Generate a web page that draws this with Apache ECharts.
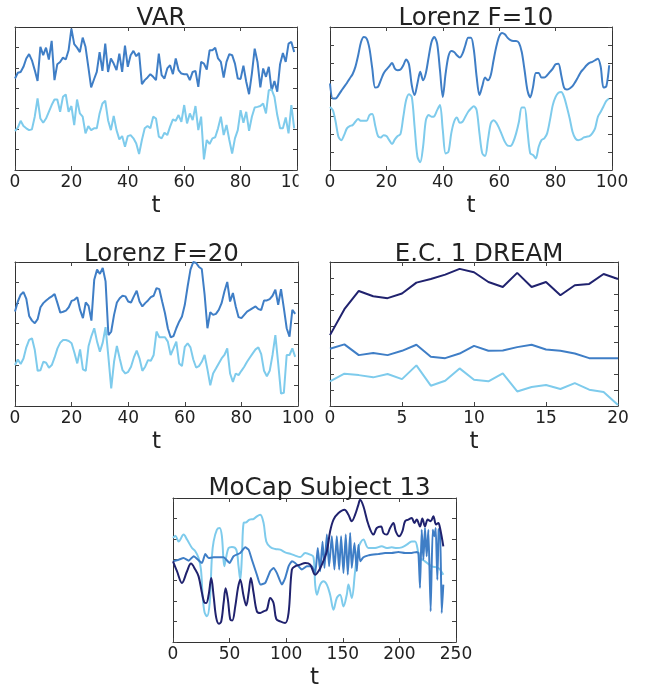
<!DOCTYPE html>
<html>
<head>
<meta charset="utf-8">
<script src="https://cdn.jsdelivr.net/npm/echarts@6/dist/echarts.min.js"></script>
<style>html,body{margin:0;padding:0;background:#fff}#c{width:649px;height:692px}</style>
</head>
<body>
<div id="c"></div>
<script>
// ---------- data (values in panel tick units) ----------
var varDark = [4.48,4.76,4.80,5.05,5.46,5.67,5.37,4.89,4.36,6.03,
5.62,5.99,5.41,6.32,4.40,5.18,5.29,5.50,5.41,5.86,
6.92,6.16,5.99,5.77,6.48,6.03,5.05,4.04,4.43,4.80,
5.77,4.85,6.19,4.80,5.46,5.21,4.89,5.70,4.80,6.09,
5.05,5.62,5.83,5.57,5.73,4.20,4.40,4.53,4.69,4.56,
4.40,5.70,4.64,4.48,4.97,5.13,4.69,5.46,4.89,4.72,
4.69,4.69,4.40,4.80,4.85,4.07,5.29,5.21,4.92,5.86,
5.86,5.98,5.46,5.29,4.53,5.29,5.67,5.62,5.21,4.48,
4.46,5.11,4.32,3.71,4.72,5.94,5.29,4.04,4.97,4.56,
5.05,3.88,4.36,3.83,5.18,5.73,5.29,6.19,6.27,5.78];
var varLight = [1.91,2.07,2.41,2.15,2.04,1.95,1.99,2.61,3.50,2.52,
2.31,2.52,2.85,3.18,3.45,3.45,2.85,3.58,3.70,2.85,
3.13,2.20,3.45,2.77,2.61,1.79,2.15,1.95,2.04,2.04,
2.77,3.26,3.39,2.44,1.95,2.64,1.95,1.50,1.66,1.14,
1.66,1.71,1.55,1.30,0.78,1.47,2.04,2.15,2.04,2.61,
2.52,1.63,1.55,1.82,1.71,2.12,2.48,2.41,2.69,2.36,
3.18,2.28,2.77,2.44,3.13,1.95,2.61,0.52,1.47,1.27,
1.55,1.60,2.04,2.61,1.71,2.20,1.47,0.81,1.55,1.95,
2.93,2.31,2.85,1.92,2.61,3.06,3.09,3.13,3.26,2.77,
3.91,3.94,3.58,2.69,2.04,2.04,2.57,1.79,3.18,2.04];
var lor10Dark = [4.84,4.00,4.00,4.19,4.43,4.65,4.87,5.12,5.36,5.77,
6.42,7.16,7.44,7.35,6.79,5.67,4.61,4.65,5.02,5.40,
5.62,5.80,5.99,5.67,5.58,5.62,5.86,6.18,5.92,4.74,
4.19,4.84,5.49,5.02,5.43,6.33,7.16,7.44,7.07,5.58,
4.09,5.40,6.36,6.66,6.60,6.42,6.29,6.51,6.98,7.40,
7.40,6.73,5.21,4.19,4.69,5.17,5.02,5.30,6.14,6.92,
7.48,7.67,7.59,7.39,7.26,7.22,7.22,7.11,6.60,5.58,
4.47,4.06,4.65,5.43,5.43,5.17,5.17,5.30,5.49,5.67,
5.92,5.95,5.30,4.61,4.50,4.56,4.69,4.93,5.21,5.49,
5.67,5.86,5.99,6.05,6.14,6.23,5.77,4.61,4.69,5.86];
var lor10Light = [3.53,3.35,2.70,1.86,1.67,1.95,2.33,2.46,2.51,2.70,
2.85,2.75,2.75,2.75,3.07,3.13,2.51,1.90,1.82,1.95,
1.90,1.67,1.45,1.71,1.90,2.01,2.98,3.91,4.24,4.09,
2.42,0.74,0.43,1.30,2.79,3.07,2.98,3.01,3.35,3.63,
2.23,0.93,1.02,2.05,2.70,2.94,2.64,2.70,2.98,3.26,
3.44,3.57,3.35,2.05,0.93,0.78,1.67,2.60,2.79,2.64,
2.33,1.95,1.58,1.36,1.34,1.58,2.05,2.70,3.50,3.50,
2.23,0.93,0.84,0.65,1.30,1.67,1.77,2.05,2.79,3.63,
4.09,4.32,4.37,4.09,3.53,2.88,2.14,1.77,1.67,1.71,
1.82,1.86,1.90,2.05,2.33,2.98,3.26,3.57,3.87,4.00];
var lor20Dark = [4.59,5.08,5.41,5.54,5.21,4.38,4.15,4.02,4.22,4.80,
5.00,5.13,5.24,5.33,5.44,5.00,4.54,4.58,4.64,4.80,
5.11,5.16,5.29,4.67,4.27,5.03,4.87,4.15,6.14,6.63,
6.42,6.71,6.06,3.45,3.62,4.43,5.03,5.24,5.36,5.33,
5.08,5.03,5.33,5.60,5.08,4.84,5.00,5.13,5.29,5.36,
5.73,5.68,5.08,4.51,3.78,3.34,3.40,3.78,4.10,4.35,
4.92,5.81,6.63,7.00,6.95,6.76,6.66,5.41,3.78,4.56,
4.43,4.48,4.67,5.00,5.57,6.03,5.08,5.49,4.84,4.32,
4.27,4.43,4.59,4.67,4.76,4.84,4.71,4.67,5.13,5.13,
5.20,5.36,5.65,4.92,5.68,4.76,3.78,3.37,4.67,4.48];
var lor20Light = [1.99,2.26,2.04,2.31,2.85,3.21,3.29,2.72,1.71,1.74,
2.15,2.10,1.86,1.99,2.36,2.80,3.08,3.21,3.21,3.16,
3.05,2.59,2.07,2.75,1.78,1.71,2.92,3.40,3.78,3.13,
2.64,3.08,3.83,2.39,0.85,2.15,2.92,2.31,1.74,1.58,
1.66,1.91,2.36,2.69,2.31,1.71,1.91,2.23,2.20,2.48,
3.62,3.34,3.34,3.34,3.13,2.48,2.80,3.13,2.07,1.94,
2.88,3.05,2.85,2.26,1.87,1.94,2.15,2.48,1.78,1.01,
1.58,1.82,2.07,2.31,2.48,2.80,1.58,1.17,1.58,1.50,
1.71,1.91,2.15,2.36,2.56,2.75,2.85,2.52,1.71,1.45,
1.71,2.48,3.45,2.07,0.60,0.64,2.48,2.48,2.80,2.39];
var dreamNavy = [4.43,6.05,7.19,6.86,6.74,7.03,7.71,7.94,8.21,8.57,8.36,7.75,7.44,8.32,7.44,7.75,6.92,7.55,7.63,8.25,7.94];
var dreamMid = [3.58,3.85,3.18,3.31,3.18,3.45,3.83,3.08,2.99,3.28,3.76,3.45,3.47,3.68,3.83,3.53,3.45,3.28,2.99,2.99,2.99];
var dreamLight = [1.54,2.02,1.93,1.79,2.00,1.68,2.54,1.27,1.58,2.35,1.64,1.54,2.04,0.91,1.19,1.31,1.06,1.43,1.02,0.87,0.06];
var mocapNavy = [[0,3.92],[3.5,3.44],[7.9,2.87],[12.4,3.44],[15.9,3.81],[19.7,3.52],[22.6,3.19],[25.6,2.38],[27.6,1.93],[29.4,1.90],
[31.5,2.30],[33.8,3.11],[35.9,2.22],[38.2,1.17],[40.6,0.89],[42.6,1.00],[44.7,1.90],[46.5,2.61],[48.5,2.06],[50.6,1.09],
[52.4,1.05],[55,1.73],[57.4,2.63],[59.4,3.03],[62.4,2.22],[64.7,1.77],[66.8,2.38],[68.8,3.11],[71.2,2.38],[74.1,1.49],
[77.1,1.41],[80,1.49],[82.9,1.57],[85.9,2.14],[88.8,1.90],[91.2,1.12],[94.7,1.00],[99.1,0.92],[102.1,1.41],[105,3.52],
[107.9,3.68],[112.4,3.76],[116.8,3.84],[121.2,3.76],[125.6,3.27],[128.5,3.44],[131.5,3.76],[135.9,4.41],[138.8,5.38],[141.8,5.95],
[146.2,6.27],[151.5,6.43],[155,6.19],[157.9,5.87],[160.9,6.19],[163.8,6.68],[165.3,6.92],[168.2,6.60],[172.6,5.71],[177.1,5.22],
[180,5.54],[183.8,5.62],[185.9,5.30],[188.8,5.22],[191.8,5.54],[194.7,5.79],[196.8,5.38],[199.7,5.14],[202.6,5.38],[205,5.87],
[207.9,5.95],[210.9,6.03],[213.2,5.79],[215.3,5.95],[218.2,5.62],[220.3,6.00],[222.6,5.62],[225,5.95],[227.6,5.87],[230,6.11],
[232.4,5.71],[234.4,5.79],[235.9,5.54],[238.8,4.65]];
var mocapMid = [[0,3.92],[5,4.00],[9.4,4.08],[13.8,3.95],[18.2,4.17],[25.6,3.84],[28.5,4.28],[31.5,4.08],[35.9,4.12],[44.7,4.12],
[50,3.84],[53.5,4.17],[59.4,4.33],[63.8,4.60],[66.8,4.49],[69.7,4.00],[74.1,3.27],[77.1,2.79],[81.5,2.87],[85.9,3.44],
[88.8,3.60],[91.8,3.35],[96.2,2.79],[99.1,3.11],[102.1,3.68],[105,3.92],[107.9,3.84],[110.9,3.68],[113.8,3.52],[118.2,3.68],
[122.6,3.68],[125.6,3.35],[127.9,4.57],[130,3.44],[132.1,4.89],[133.8,3.60],[135.9,5.22],[137.9,3.68],[140.3,5.14],[142.6,3.52],
[144.7,5.14],[146.8,3.52],[148.5,5.14],[150.6,3.35],[152.6,5.22],[154.4,3.27],[156.5,5.30],[157.9,3.60],[160.3,4.81],[162.4,3.44],
[163.8,4.73],[165.3,3.92],[168.2,4.12],[172.6,4.21],[177.1,4.25],[181.5,4.28],[187.4,4.33],[193.2,4.33],[199.1,4.38],[205,4.33],
[210.9,4.33],[215.3,4.38],[216.8,4.33],[218.2,2.63],[219.7,5.46],[221.2,4.00],[222.6,5.54],[224.1,4.17],[225.6,5.46],[227.6,1.49],
[229.4,5.46],[230.9,5.14],[232.1,5.54],[233.5,3.03],[234.7,5.46],[235.9,5.54],[237.4,1.41],[238.8,2.79]];
var mocapLight = [[0,5.06],[2.1,5.17],[5,4.89],[9.4,5.22],[12.4,4.98],[16.8,4.57],[19.7,4.41],[22.6,4.08],[24.7,3.52],[26.2,2.22],
[27.9,1.44],[30,1.25],[32.4,1.90],[34.4,4.17],[35.9,4.89],[38.8,5.46],[41.2,5.54],[43.2,5.14],[45.3,3.68],[46.8,4.08],
[49.1,4.57],[52.1,4.62],[55.9,4.49],[57.9,3.68],[59.4,3.03],[60.9,4.17],[62.4,5.79],[64.7,5.82],[67.6,5.95],[71.2,5.98],
[74.1,6.11],[77.1,6.19],[80,5.79],[82.4,4.89],[85.9,4.62],[90.3,4.52],[94.7,4.49],[99.1,4.36],[103.5,4.29],[107.9,4.20],
[112.4,4.13],[116.8,4.33],[121.2,4.25],[124.1,4.13],[125.6,2.79],[127.1,2.30],[130,2.79],[132.9,2.95],[135.9,2.79],[138.8,2.30],
[141.8,1.57],[144.7,2.14],[147.6,2.30],[150.6,1.73],[153.5,2.30],[155,2.79],[157.9,2.14],[160.9,3.44],[163.8,4.57],[168.2,4.98],
[172.6,4.57],[178.5,4.57],[184.4,4.65],[188.8,4.57],[193.2,4.60],[197.6,4.57],[202.1,4.60],[206.5,4.73],[210.9,4.89],[213.8,4.89],
[216.8,4.33],[218.2,4.08],[222.6,3.92],[228.5,3.68],[234.4,3.60],[238.8,3.27]];

var titles = ['VAR', 'Lorenz F=10', 'Lorenz F=20', 'E.C. 1 DREAM', 'MoCap Subject 13'];
var xMax = [100, 100, 100, 20, 250];
var xStep = [20, 20, 20, 5, 50];
var yMax = [7, 8, 7, 9, 7];

// ---------- layout / style ----------
var FONT = 'DejaVu Sans';
var NAVY = '#20226e', MID = '#3f7ec6', LIGHT = '#7ecbec';
var grids = [
  {left: 15, top: 27, width: 282, height: 143},
  {left: 330, top: 27, width: 282, height: 143},
  {left: 15, top: 262, width: 283, height: 144},
  {left: 330, top: 262, width: 288, height: 144},
  {left: 173, top: 498, width: 283, height: 144}
];
var titleTops = [1, 1, 237, 237, 471];

var lineStyleAxis = {color: '#333', width: 1};
var xAxes = [], yAxes = [], titleOpts = [], series = [];
grids.forEach(function (g, i) {
  xAxes.push({
    type: 'value', gridIndex: i, min: 0, max: xMax[i], interval: xStep[i], position: 'bottom',
    axisLine: {show: true, onZero: false, lineStyle: lineStyleAxis},
    axisTick: {show: true, inside: true, length: 4, lineStyle: {color: '#444'}},
    axisLabel: {show: true, fontFamily: FONT, fontSize: 17, color: '#222', margin: 4},
    splitLine: {show: false},
    name: 't', nameLocation: 'middle', nameGap: 25,
    nameTextStyle: {fontFamily: FONT, fontSize: 23, color: '#222'}
  });
  xAxes.push({
    type: 'value', gridIndex: i, min: 0, max: xMax[i], interval: xStep[i], position: 'top',
    axisLine: {show: true, onZero: false, lineStyle: lineStyleAxis},
    axisTick: {show: true, inside: true, length: 4, lineStyle: {color: '#444'}},
    axisLabel: {show: false}, splitLine: {show: false}
  });
  yAxes.push({
    type: 'value', gridIndex: i, min: 0, max: yMax[i], interval: 1, position: 'left',
    axisLine: {show: true, onZero: false, lineStyle: lineStyleAxis},
    axisTick: {show: true, inside: true, length: 4, lineStyle: {color: '#444'}},
    axisLabel: {show: false}, splitLine: {show: false}
  });
  yAxes.push({
    type: 'value', gridIndex: i, min: 0, max: yMax[i], interval: 1, position: 'right',
    axisLine: {show: true, onZero: false, lineStyle: lineStyleAxis},
    axisTick: {show: true, inside: true, length: 4, lineStyle: {color: '#444'}},
    axisLabel: {show: false}, splitLine: {show: false}
  });
  titleOpts.push({
    text: titles[i], left: g.left + g.width / 2, top: titleTops[i], textAlign: 'center',
    textStyle: {fontFamily: FONT, fontSize: 24.5, fontWeight: 'normal', color: '#222'}
  });
});

function idx(arr) { return arr.map(function (v, k) { return [k, v]; }); }
function line(gi, data, color, smooth) {
  return {
    type: 'line', xAxisIndex: gi * 2, yAxisIndex: gi * 2, data: data,
    showSymbol: false, symbol: 'none', smooth: smooth || false,
    lineStyle: {color: color, width: 2}, itemStyle: {color: color}, clip: true
  };
}
series.push(line(0, idx(varDark), MID));
series.push(line(0, idx(varLight), LIGHT));
series.push(line(1, idx(lor10Dark), MID, 0.3));
series.push(line(1, idx(lor10Light), LIGHT, 0.3));
series.push(line(2, idx(lor20Dark), MID));
series.push(line(2, idx(lor20Light), LIGHT));
series.push(line(3, idx(dreamNavy), NAVY));
series.push(line(3, idx(dreamMid), MID));
series.push(line(3, idx(dreamLight), LIGHT));
series.push(line(4, mocapLight, LIGHT, 0.35));
series.push(line(4, mocapMid, MID, 0.15));
series.push(line(4, mocapNavy, NAVY, 0.35));

var chart = echarts.init(document.getElementById('c'), null, {renderer: 'canvas'});
chart.setOption({
  animation: false,
  backgroundColor: '#fff',
  title: titleOpts,
  grid: grids,
  xAxis: xAxes,
  yAxis: yAxes,
  series: series,
  graphic: [{
    type: 'rect', z: 100, silent: true,
    shape: {x: 298.5, y: 172, width: 25, height: 22},
    style: {fill: '#fff'}
  }]
});
</script>
</body>
</html>
